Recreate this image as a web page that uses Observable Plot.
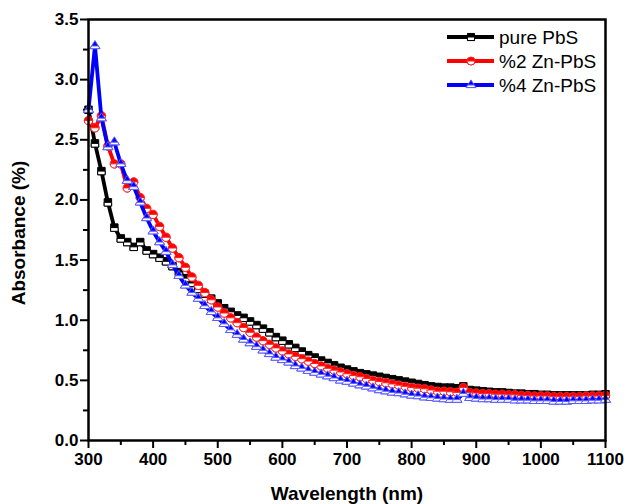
<!DOCTYPE html>
<html><head><meta charset="utf-8">
<script src="https://cdn.jsdelivr.net/npm/d3@7"></script>
<script src="https://cdn.jsdelivr.net/npm/@observablehq/plot@0.6"></script>
<style>
body{margin:0;background:#fff;}
#chart{position:relative;width:624px;height:504px;}
</style>
</head><body><div id="chart"></div>
<script>
const wavelength = [300,310,320,330,340,350,360,370,380,390,400,410,420,430,440,450,460,470,480,490,
500,510,520,530,540,550,560,570,580,590,600,610,620,630,640,650,660,670,680,690,
700,710,720,730,740,750,760,770,780,790,800,810,820,830,840,850,860,870,880,890,
900,910,920,930,940,950,960,970,980,990,1000,1010,1020,1030,1040,1050,1060,1070,1080,1090,1100];

const purePbS = [2.75,2.47,2.24,1.98,1.77,1.68,1.65,1.61,1.65,1.58,1.55,1.52,1.49,1.45,1.40,1.35,1.31,1.26,1.22,1.18,
1.14,1.10,1.07,1.04,1.02,0.99,0.96,0.93,0.90,0.86,0.83,0.80,0.77,0.74,0.71,0.69,0.665,0.645,0.625,0.605,
0.59,0.575,0.56,0.55,0.54,0.53,0.52,0.51,0.50,0.49,0.48,0.47,0.46,0.45,0.445,0.44,0.44,0.435,0.45,0.42,
0.415,0.41,0.405,0.40,0.40,0.395,0.39,0.39,0.385,0.385,0.38,0.38,0.375,0.375,0.375,0.375,0.375,0.375,0.38,0.38,0.385];

const zn2PbS = [2.66,2.60,2.70,2.45,2.30,2.30,2.10,2.15,2.02,1.93,1.88,1.78,1.69,1.60,1.52,1.44,1.36,1.29,1.23,1.17,
1.11,1.06,1.02,0.98,0.94,0.90,0.86,0.83,0.80,0.77,0.745,0.72,0.70,0.68,0.66,0.64,0.62,0.60,0.585,0.57,
0.555,0.54,0.53,0.515,0.50,0.49,0.48,0.47,0.46,0.45,0.44,0.435,0.43,0.42,0.41,0.41,0.405,0.40,0.44,0.40,
0.395,0.39,0.39,0.385,0.385,0.38,0.38,0.375,0.375,0.37,0.37,0.37,0.365,0.365,0.365,0.365,0.365,0.37,0.37,0.37,0.375];

const zn4PbS = [2.75,3.28,2.68,2.44,2.48,2.30,2.16,2.11,1.98,1.85,1.74,1.65,1.57,1.46,1.37,1.29,1.23,1.18,1.12,1.07,
1.02,0.97,0.92,0.88,0.84,0.81,0.78,0.75,0.72,0.69,0.67,0.65,0.62,0.60,0.58,0.565,0.55,0.535,0.52,0.50,
0.49,0.475,0.46,0.45,0.435,0.42,0.41,0.40,0.395,0.385,0.375,0.37,0.36,0.355,0.35,0.345,0.34,0.34,0.39,0.355,
0.35,0.345,0.345,0.34,0.34,0.34,0.335,0.335,0.335,0.33,0.33,0.33,0.325,0.325,0.325,0.33,0.33,0.33,0.335,0.335,0.34];

const seriesNames = ["pure PbS", "%2 Zn-PbS", "%4 Zn-PbS"];
const seriesColors = ["#000000", "#ff0000", "#0000ff"];
const seriesOutline = ["#000000", "#ff2020", "#5a5aff"];
const seriesValues = [purePbS, zn2PbS, zn4PbS];

const xMajor = [300,400,500,600,700,800,900,1000,1100];
const xMinor = [350,450,550,650,750,850,950,1050];
const yMajor = [0,0.5,1.0,1.5,2.0,2.5,3.0,3.5];
const yMinor = [0.25,0.75,1.25,1.75,2.25,2.75,3.25];

// custom symbols (size = area)
const squareFull = {draw(c, size){const s=Math.sqrt(size)/2; c.rect(-s,-s,2*s,2*s);}};
const squareBottom = {draw(c, size){const s=Math.sqrt(size)/2; c.rect(-s,0,2*s,s);}};
const circleFull = {draw(c, size){const r=Math.sqrt(size/Math.PI); c.moveTo(r,0); c.arc(0,0,r,0,2*Math.PI); c.closePath();}};
const circleBottom = {draw(c, size){const r=Math.sqrt(size/Math.PI); c.moveTo(r,0); c.arc(0,0,r,0,Math.PI); c.closePath();}};
const triFull = {draw(c, size){const w=Math.sqrt(size)*1.35, h=w*0.8; c.moveTo(0,-2*h/3); c.lineTo(w/2,h/3); c.lineTo(-w/2,h/3); c.closePath();}};
const triBottom = {draw(c, size){const w=Math.sqrt(size)*1.35, h=w*0.8; c.moveTo(-w/3,0); c.lineTo(w/3,0); c.lineTo(w/2,h/3); c.lineTo(-w/2,h/3); c.closePath();}};
const fullSyms = [squareFull, circleFull, triFull];
const bottomSyms = [squareBottom, circleBottom, triBottom];

const tables = seriesValues.map((vals, i) => vals.map((v, j) => ({x: wavelength[j], y: v, s: seriesNames[i]})));

const marks = [];
tables.forEach((t, i) => {
  marks.push(Plot.line(t, {x: "x", y: "y", stroke: seriesColors[i], strokeWidth: 3.8}));
  marks.push(Plot.dot(t, {x: "x", y: "y", symbol: fullSyms[i], r: 4.2, fill: seriesColors[i], stroke: seriesOutline[i], strokeWidth: 1}));
  marks.push(Plot.dot(t, {x: "x", y: "y", symbol: bottomSyms[i], r: 4.2, fill: "#ffffff", stroke: seriesOutline[i], strokeWidth: 1}));
});

const chart = Plot.plot({
  width: 624, height: 504,
  marginLeft: 88, marginRight: 19, marginTop: 19, marginBottom: 64,
  style: {fontFamily: "'Liberation Sans', Arial, sans-serif", fontSize: "17px", fontWeight: "bold", color: "#000", background: "#fff"},
  x: {domain: [300, 1100], inset: 0},
  y: {domain: [0, 3.5], inset: 0},
  marks: [
    Plot.axisX({ticks: xMinor, tickSize: 5, strokeWidth: 2, text: null, label: null}),
    Plot.axisX({ticks: xMajor, tickSize: 8, strokeWidth: 2, tickPadding: 4, tickFormat: d3.format("d"), fontSize: 17, fontWeight: "bold", label: null}),
    Plot.axisY({ticks: yMinor, tickSize: 5, strokeWidth: 2, text: null, label: null}),
    Plot.axisY({ticks: yMajor, tickSize: 8, strokeWidth: 2, tickPadding: 2, tickFormat: d3.format(".1f"), fontSize: 17, fontWeight: "bold", label: null}),
    ...marks,
    Plot.frame({stroke: "#000", strokeWidth: 2.5}),
    Plot.text(["Wavelength (nm)"], {frameAnchor: "bottom", textAnchor: "middle", lineAnchor: "middle", dy: 53, fontSize: 19, fontWeight: "bold"}),
    Plot.text(["Absorbance (%)"], {frameAnchor: "left", textAnchor: "middle", lineAnchor: "middle", dx: -70, dy: 3, rotate: -90, fontSize: 19, fontWeight: "bold"})
  ]
});

// legend
const svg = d3.select(chart);
const lg = svg.append("g").attr("font-family", "'Liberation Sans', Arial, sans-serif").attr("font-size", 19).attr("font-weight", "normal").attr("text-anchor", "start");
const legendY = [37, 61, 85];
seriesNames.forEach((name, i) => {
  const y = legendY[i];
  lg.append("line").attr("x1", 447).attr("x2", 494).attr("y1", y).attr("y2", y).attr("stroke", seriesColors[i]).attr("stroke-width", 3.8);
  const size = 16 * Math.PI;
  lg.append("path").attr("transform", `translate(471,${y})`).attr("d", d3.symbol(fullSyms[i], size)()).attr("fill", seriesColors[i]).attr("stroke", seriesOutline[i]);
  lg.append("path").attr("transform", `translate(471,${y})`).attr("d", d3.symbol(bottomSyms[i], size)()).attr("fill", "#fff").attr("stroke", seriesOutline[i]);
  lg.append("text").attr("x", 499).attr("y", y).attr("dy", "0.36em").attr("fill", "#000").attr("text-anchor", "start").text(name);
});

document.getElementById("chart").appendChild(chart);
</script>
</body></html>
